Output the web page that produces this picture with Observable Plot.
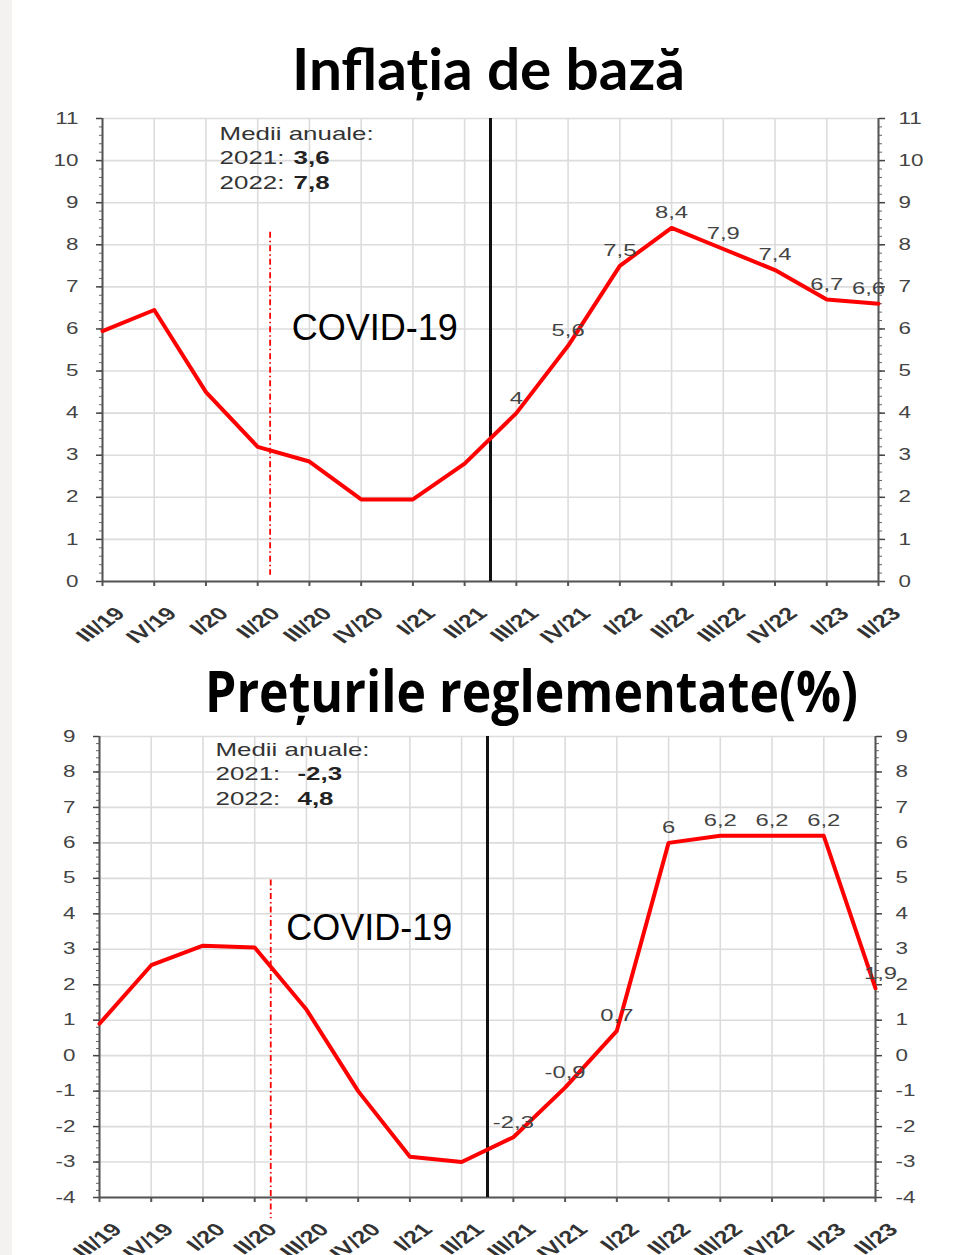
<!DOCTYPE html>
<html><head><meta charset="utf-8">
<script src="https://cdn.jsdelivr.net/npm/d3@7"></script>
<script src="https://cdn.jsdelivr.net/npm/@observablehq/plot@0.6"></script>
<style>
body{margin:0;background:#fff;width:966px;height:1255px;overflow:hidden;position:relative;font-family:"Liberation Sans",Arial,sans-serif}
#strip{position:absolute;left:0;top:0;width:12px;height:1255px;background:#f3f2f1}
.title{position:absolute;white-space:nowrap;line-height:1;color:#000;transform-origin:0 0}
#t1{font-family:Lato,"Open Sans",sans-serif;font-weight:700;font-size:58px;left:292px;top:39px}
#t2{font-family:"Open Sans",sans-serif;font-weight:700;font-size:57px;left:205px;top:662px}
.chart{position:absolute;left:0}
</style></head><body>
<div id="strip"></div>
<div id="t1" class="title">Inflația de bază</div>
<div id="c1" class="chart" style="top:100px"></div>
<div id="t2" class="title">Prețurile reglementate(%)</div>
<div id="c2" class="chart" style="top:718px"></div>
<script>
// ---- data ----
const quarters = ["III/19","IV/19","I/20","II/20","III/20","IV/20","I/21","II/21","III/21","IV/21","I/22","II/22","III/22","IV/22","I/23","II/23"];
const coreInflation = [5.95,6.45,4.5,3.2,2.85,1.95,1.95,2.8,4.0,5.6,7.5,8.4,7.9,7.4,6.7,6.6];
const regulatedPrices = [0.9,2.55,3.1,3.05,1.3,-1.0,-2.85,-3.0,-2.3,-0.9,0.7,6.0,6.2,6.2,6.2,1.9];
const labelFrom = 8; // value labels shown from III/21 onwards
const avgHeader = "Medii anuale:";
const coreAvgYears = ["2021:", "2022:"];
const coreAvgValues = ["3,6", "7,8"];
const regAvgYears = ["2021:", "2022:"];
const regAvgValues = ["-2,3", "4,8"];
const covidLabel = "COVID-19";
const breakIndex = 7.5;    // forecast break between II/21 and III/21

const FONT = '"Liberation Sans", Arial, sans-serif';
const fmt = v => String(v).replace(".", ",");

function chart(o) {
  const n = quarters.length;
  const data = o.values.map((v, i) => ({i, v, q: quarters[i], lab: fmt(v)}));
  const labeled = data.filter(d => d.i >= labelFrom);
  const idx = d3.range(n);
  const ints = d3.range(o.y0, o.y1 + 1);
  const minors = d3.range(o.y0 * 5, o.y1 * 5 + 1).map(k => k / 5);
  const pxY = (o.height - o.mt - o.mb) / (o.y1 - o.y0);
  const pxX = (966 - o.ml - o.mr) / (n - 1);
  const rowY = k => o.avgY - k * 24.5 / pxY;
  return Plot.plot({
    width: 966, height: o.height,
    marginLeft: o.ml, marginRight: o.mr, marginTop: o.mt, marginBottom: o.mb,
    style: {fontFamily: FONT, background: "transparent", overflow: "visible"},
    x: {type: "linear", domain: [0, n - 1], axis: null, label: null},
    y: {domain: [o.y0, o.y1], axis: null, label: null},
    marks: [
      Plot.ruleX(idx, {stroke: "#dcdcdc", strokeWidth: 1.6}),
      Plot.ruleY(ints, {stroke: "#dcdcdc", strokeWidth: 1.6}),
      Plot.axisY({anchor: "left", ticks: minors, tickSize: 3, tickFormat: () => "", color: "#666", label: null}),
      Plot.axisY({anchor: "right", ticks: minors, tickSize: 3, tickFormat: () => "", color: "#666", label: null}),
      Plot.axisY({anchor: "left", ticks: ints, tickSize: 6, tickPadding: 18, tickFormat: d => String(d), fontSize: 16, color: "#444", strokeWidth: 1.5, label: null}),
      Plot.axisY({anchor: "right", ticks: ints, tickSize: 6, tickPadding: 14, tickFormat: d => String(d), fontSize: 16, color: "#444", strokeWidth: 1.5, textAnchor: "start", label: null}),
      Plot.axisX({anchor: "bottom", ticks: idx, tickSize: 5, tickFormat: () => "", color: "#555", strokeWidth: 2, label: null}),
      Plot.ruleX([0, n - 1], {stroke: "#555", strokeWidth: 2}),
      Plot.ruleY([o.y0], {stroke: "#555", strokeWidth: 2.2}),
      Plot.text(data, {x: "i", y: o.y0, text: "q", rotate: -45, textAnchor: "end", lineAnchor: "middle",
        dx: 18, dy: 29, fontSize: 18, fill: "#333", fontWeight: "bold"}),
      Plot.ruleX([breakIndex], {stroke: "#111", strokeWidth: 3}),
      Plot.ruleX([o.covidIndex], {y1: o.covidRule[0], y2: o.covidRule[1], stroke: "#ff0000", strokeWidth: 1.8, strokeDasharray: "6 3 1.5 3"}),
      Plot.text([covidLabel], {x: o.covidX, y: o.covidY, text: d => d, textAnchor: "start", fontSize: 36, fill: "#000"}),
      Plot.line(data, {x: "i", y: "v", stroke: "#ff0000", strokeWidth: 4, strokeLinejoin: "round"}),
      Plot.text(labeled.slice(0, -1), {x: "i", y: "v", text: "lab", dy: -15, fontSize: 17, fill: "#444"}),
      Plot.text(labeled.slice(-1), {x: "i", y: "v", text: "lab", dx: o.lastDx, dy: o.lastDy, fontSize: 17, fill: "#444"}),
      Plot.text([avgHeader], {x: o.avgX, y: rowY(0), text: d => d, textAnchor: "start", fontSize: 18.5, fill: "#333"}),
      Plot.text(o.years, {x: o.avgX, y: (d, k) => rowY(k + 1), text: d => d, textAnchor: "start", fontSize: 18.5, fill: "#333"}),
      Plot.text(o.avgs, {x: o.avgX + o.valDx / pxX, y: (d, k) => rowY(k + 1), text: d => d, textAnchor: "start", fontSize: 18.5, fill: "#222", fontWeight: "bold"})
    ]
  });
}

// the reference picture is horizontally stretched: stretch its small texts alike (not the COVID-19 overlay)
function stretch(svg, sx) {
  svg.querySelectorAll("text").forEach(t => {
    const g = t.closest("g[font-size]");
    if (g && +g.getAttribute("font-size") === 36) return;
    const tr = t.getAttribute("transform") || "";
    const m = tr.match(/^\s*translate\(([^)]*)\)(.*)$/);
    if (m) t.setAttribute("transform", `translate(${m[1]}) scale(${sx},1)${m[2]}`);
    else {
      const x = +(t.getAttribute("x") || 0), y = +(t.getAttribute("y") || 0);
      t.removeAttribute("x"); t.removeAttribute("y");
      t.setAttribute("transform", `translate(${x},${y}) scale(${sx},1) ${tr}`);
    }
  });
}

const svg1 = chart({values: coreInflation, y0: 0, y1: 11, height: 560, mt: 18, mb: 79, ml: 102, mr: 88,
  years: coreAvgYears, avgs: coreAvgValues, avgX: 2.264, avgY: 10.64, valDx: 74,
  covidIndex: 3.24, covidRule: [8.3, 0.15], covidX: 3.66, covidY: 6.0, lastDx: -10, lastDy: -15});
const svg2 = chart({values: regulatedPrices, y0: -4, y1: 9, height: 537, mt: 18, mb: 58, ml: 99, mr: 91,
  years: regAvgYears, avgs: regAvgValues, avgX: 2.242, avgY: 8.63, valDx: 82,
  covidIndex: 3.31, covidRule: [4.95, -4.6], covidX: 3.61, covidY: 3.6, lastDx: 5, lastDy: -15});
stretch(svg1, 1.4);
stretch(svg2, 1.4);
document.getElementById("c1").appendChild(svg1);
document.getElementById("c2").appendChild(svg2);

function fit(id, w) {
  const el = document.getElementById(id);
  const cw = el.getBoundingClientRect().width;
  el.style.transform = `scaleX(${w / cw})`;
}
fit("t1", 393);
fit("t2", 653);
</script>
</body></html>
